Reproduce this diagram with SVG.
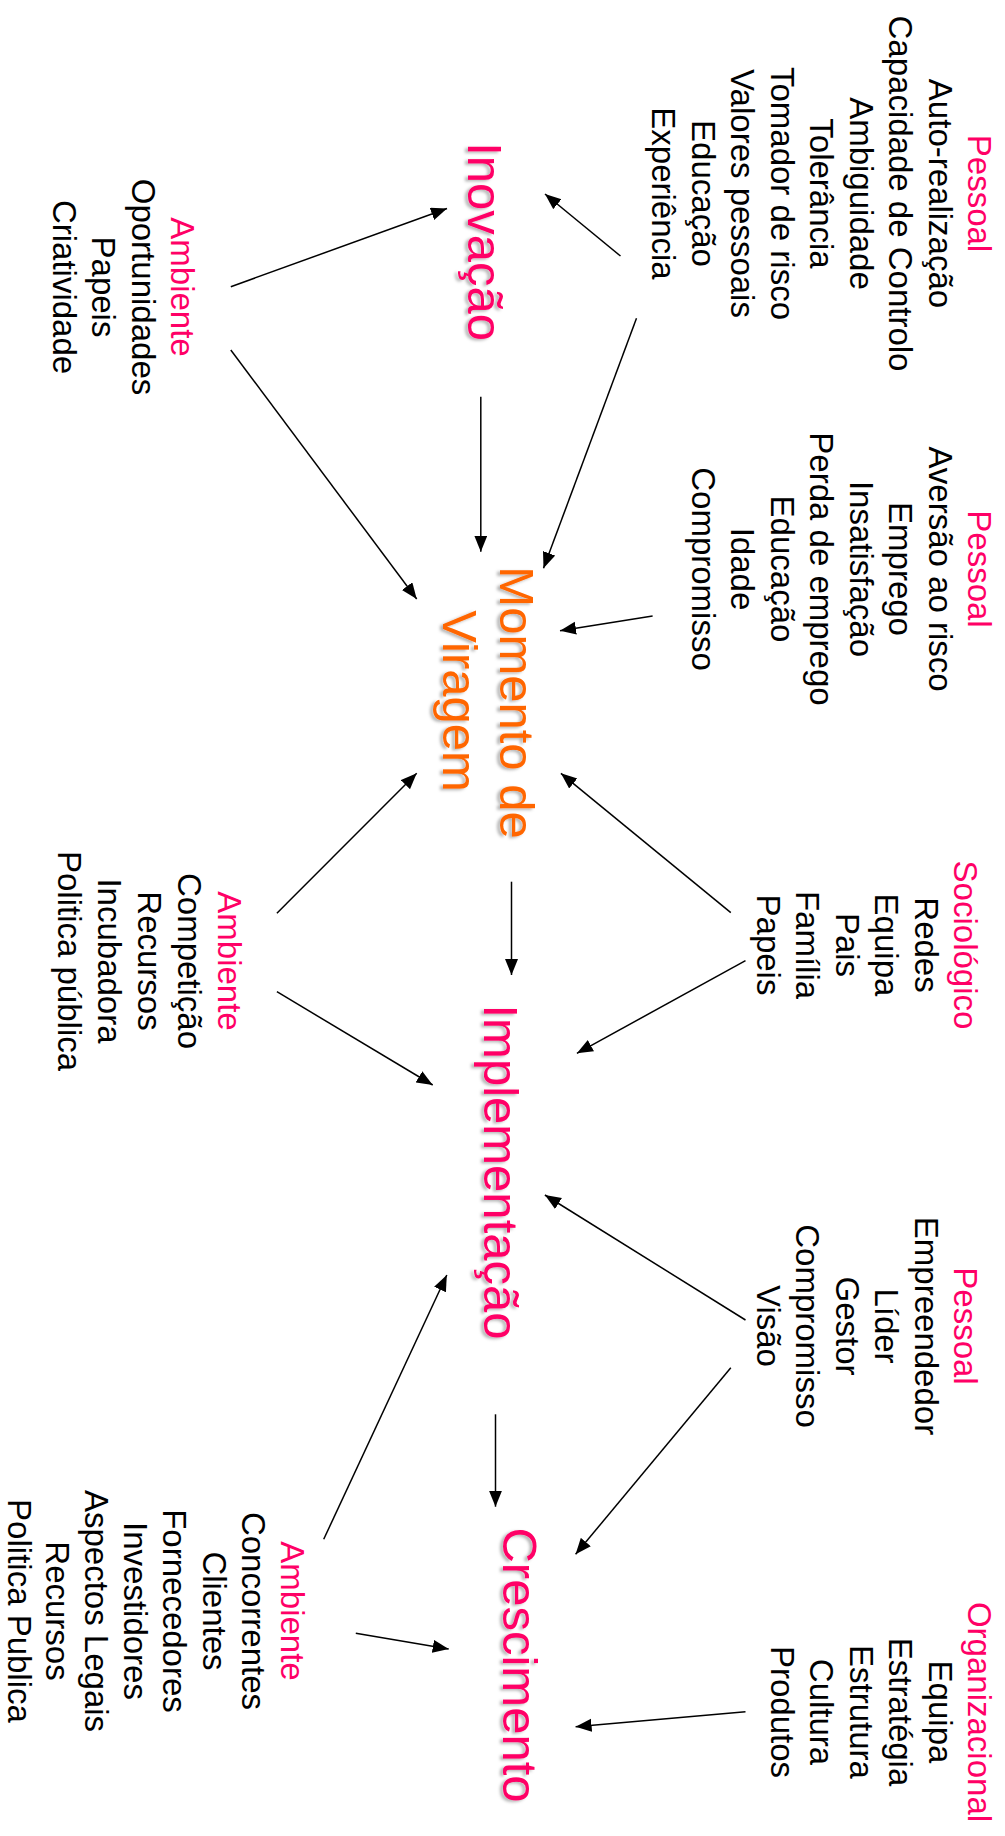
<svg xmlns="http://www.w3.org/2000/svg" width="1005" height="1836" viewBox="0 0 1005 1836">
<style>
.t{font-family:"Liberation Sans",Arial,Helvetica,sans-serif;font-size:33px;text-anchor:middle;fill:#000}
.h{fill:#FF0066}
.ti{font-family:"Liberation Sans",Arial,Helvetica,sans-serif;font-size:49px;text-anchor:middle;filter:url(#sh)}
.pk{fill:#FF0066}
.or{fill:#FF6600}
.c line{stroke:#000;stroke-width:1.5;marker-end:url(#ah)}
</style>
<defs>
<marker id="ah" markerUnits="userSpaceOnUse" markerWidth="18" markerHeight="14" refX="16" refY="6.5" orient="auto" viewBox="0 0 18 14">
<path d="M0,0 L16,6.5 L0,13 z" fill="#000"/>
</marker>
<filter id="sh" x="-10%" y="-30%" width="120%" height="160%">
<feDropShadow dx="1.5" dy="3" stdDeviation="1.5" flood-color="#000" flood-opacity="0.3"/>
</filter>
</defs>
<rect width="1005" height="1836" fill="#fff"/>
<g transform="translate(1005,0) rotate(90)">
<g class="c" id="connectors">
<line x1="286.7" y1="774.2" x2="208.5" y2="558"/>
<line x1="256" y1="384.5" x2="194" y2="460"/>
<line x1="318.3" y1="368.5" x2="568.3" y2="461.5"/>
<line x1="396.7" y1="524.2" x2="551.7" y2="524.2"/>
<line x1="350" y1="774.2" x2="599" y2="588.3"/>
<line x1="616" y1="352.4" x2="630.7" y2="445"/>
<line x1="913.3" y1="728.1" x2="773.3" y2="588.3"/>
<line x1="912.7" y1="274.2" x2="773.3" y2="444.1"/>
<line x1="881.7" y1="493.5" x2="975" y2="493.5"/>
<line x1="960.7" y1="259.5" x2="1053.3" y2="428.1"/>
<line x1="991.7" y1="728.1" x2="1085" y2="572.3"/>
<line x1="1320" y1="259.5" x2="1195" y2="460.1"/>
<line x1="1539.3" y1="681.3" x2="1275" y2="558.2"/>
<line x1="1414.3" y1="509.5" x2="1506.7" y2="509.5"/>
<line x1="1367.7" y1="274.2" x2="1554.3" y2="429.4"/>
<line x1="1633.3" y1="649.2" x2="1649" y2="556.3"/>
<line x1="1711.7" y1="259.5" x2="1726.7" y2="429.4"/>
</g>
<g id="pessoal1">
<text class="t"><tspan class="h" x="193.5" y="37">Pessoal</tspan><tspan x="193.5" y="76.5">Auto-realização</tspan><tspan x="193.5" y="116">Capacidade de Controlo</tspan><tspan x="193.5" y="155.5">Ambiguidade</tspan><tspan x="193.5" y="195">Tolerância</tspan><tspan x="193.5" y="234.5">Tomador de risco</tspan><tspan x="193.5" y="274">Valores pessoais</tspan><tspan x="193.5" y="313.5">Educação</tspan><tspan x="193.5" y="353">Experiência</tspan></text>
</g>
<g id="ambiente1">
<text class="t"><tspan class="h" x="287" y="834">Ambiente</tspan><tspan x="287" y="873.5">Oportunidades</tspan><tspan x="287" y="913">Papeis</tspan><tspan x="287" y="952.5">Criatividade</tspan></text>
</g>
<g id="inovacao">
<text class="ti pk" x="241.7" y="537">Inovação</text>
</g>
<g id="pessoal2">
<text class="t"><tspan class="h" x="569" y="37">Pessoal</tspan><tspan x="569" y="76.5">Aversão ao risco</tspan><tspan x="569" y="116">Emprego</tspan><tspan x="569" y="155.5">Insatisfação</tspan><tspan x="569" y="195">Perda de emprego</tspan><tspan x="569" y="234.5">Educação</tspan><tspan x="569" y="274">Idade</tspan><tspan x="569" y="313.5">Compromisso</tspan></text>
</g>
<g id="momento">
<text class="ti or"><tspan x="702.5" y="505">Momento de</tspan><tspan x="701" y="562">Viragem</tspan></text>
</g>
<g id="sociologico">
<text class="t"><tspan class="h" x="945" y="51">Sociológico</tspan><tspan x="945" y="90.5">Redes</tspan><tspan x="945" y="130">Equipa</tspan><tspan x="945" y="169.5">Pais</tspan><tspan x="945" y="209">Família</tspan><tspan x="945" y="248.5">Papeis</tspan></text>
</g>
<g id="ambiente2">
<text class="t"><tspan class="h" x="961" y="787">Ambiente</tspan><tspan x="961" y="827">Competição</tspan><tspan x="961" y="867">Recursos</tspan><tspan x="961" y="907">Incubadora</tspan><tspan x="961" y="947">Politica pública</tspan></text>
</g>
<g id="implementacao">
<text class="ti pk" x="1172" y="521">Implementação</text>
</g>
<g id="pessoal3">
<text class="t"><tspan class="h" x="1326" y="51">Pessoal</tspan><tspan x="1326" y="90.5">Empreendedor</tspan><tspan x="1326" y="130">Líder</tspan><tspan x="1326" y="169.5">Gestor</tspan><tspan x="1326" y="209">Compromisso</tspan><tspan x="1326" y="248.5">Visão</tspan></text>
</g>
<g id="ambiente3">
<text class="t"><tspan class="h" x="1611" y="724">Ambiente</tspan><tspan x="1611" y="763.2">Concorrentes</tspan><tspan x="1611" y="802.4">Clientes</tspan><tspan x="1611" y="841.6">Fornecedores</tspan><tspan x="1611" y="880.8">Investidores</tspan><tspan x="1611" y="920">Aspectos Legais</tspan><tspan x="1611" y="959.2">Recursos</tspan><tspan x="1611" y="997.5">Politica Publica</tspan></text>
</g>
<g id="crescimento">
<text class="ti pk" x="1665" y="502">Crescimento</text>
</g>
<g id="organizacional">
<text class="t"><tspan class="h" x="1712" y="37">Organizacional</tspan><tspan x="1712" y="76.5">Equipa</tspan><tspan x="1712" y="116">Estratégia</tspan><tspan x="1712" y="155.5">Estrutura</tspan><tspan x="1712" y="195">Cultura</tspan><tspan x="1712" y="234.5">Produtos</tspan></text>
</g>
</g>
</svg>
